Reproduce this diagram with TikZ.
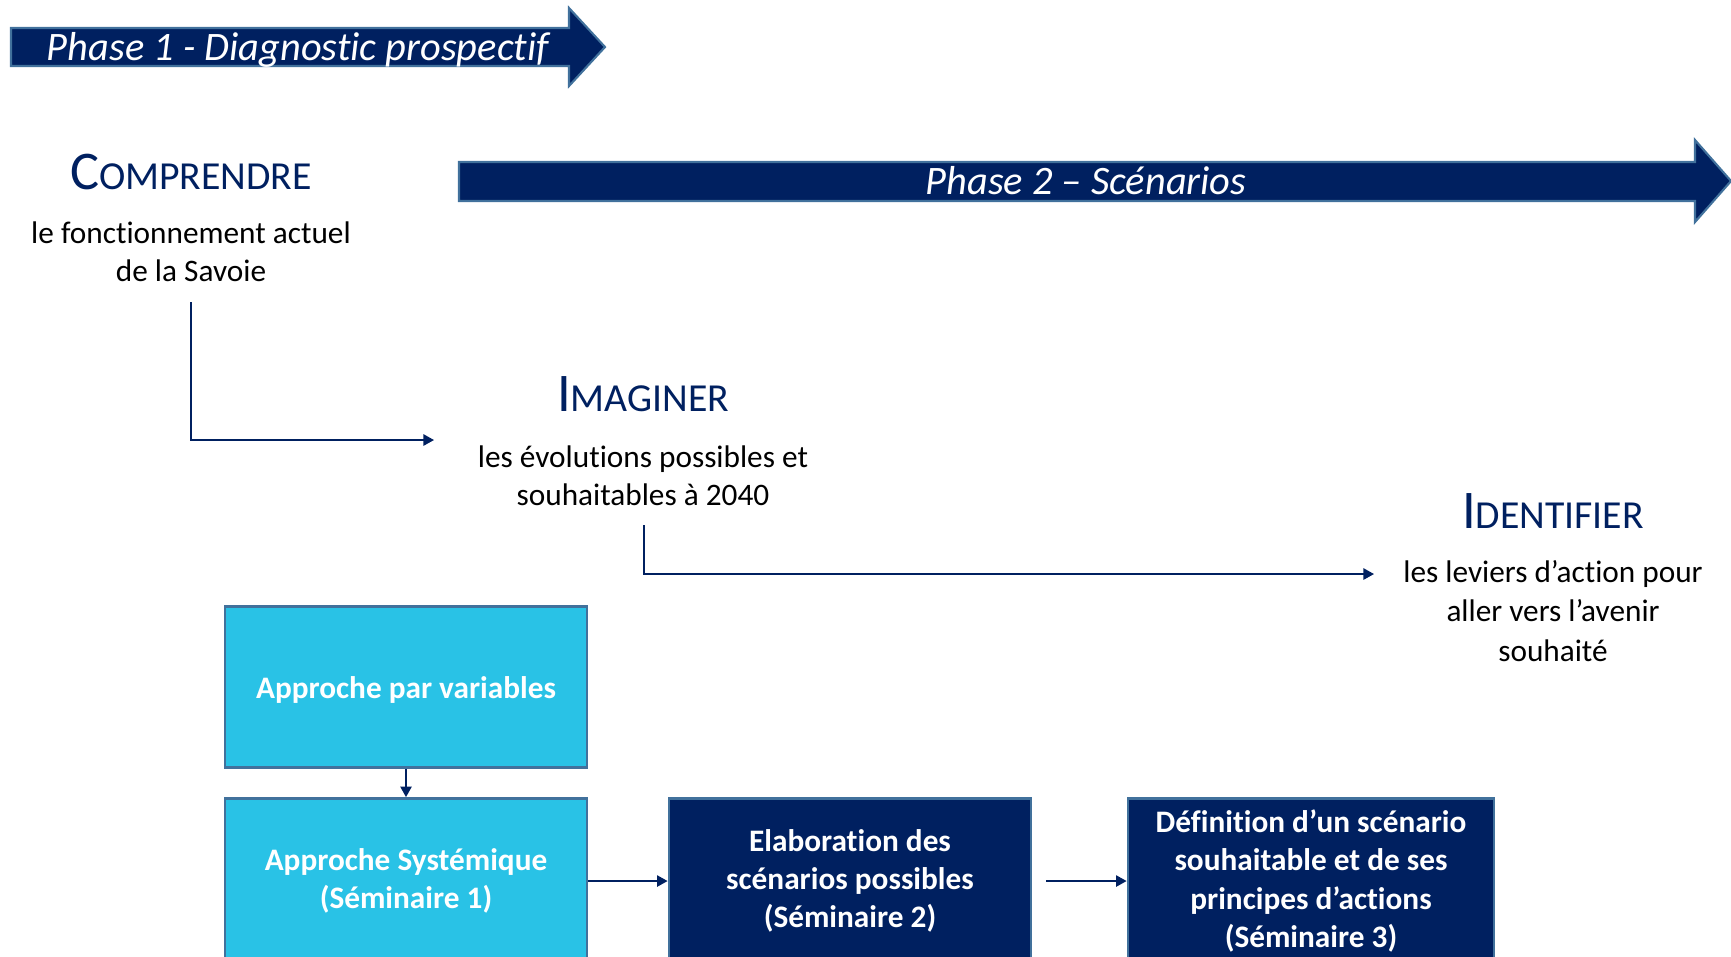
\documentclass[tikz,border=0pt]{standalone}
\usepackage{fontspec}
\setmainfont{Carlito}[Ligatures=NoCommon]
\usepackage{tikz}
\usetikzlibrary{arrows.meta}
\usetikzlibrary{positioning}
\definecolor{navy}{RGB}{0,32,96}
\definecolor{skyblue}{RGB}{41,194,230}
\definecolor{edgeblue}{RGB}{65,113,156}
% small caps titles: big first letter, smaller rest
\newcommand{\sctitle}[2]{{\fontsize{15.5}{18}\selectfont #1}{\fontsize{11.3}{14}\selectfont #2}}

\begin{document}
\begin{tikzpicture}[x=0.1mm,y=-0.1mm,
	phase/.style={fill=navy,draw=edgeblue,line width=0.6pt},
	phasetext/.style={text=white,font=\fontsize{11.5}{14}\selectfont\itshape},
	title/.style={text=navy,anchor=base},
	body/.style={align=center,font=\fontsize{8.9}{10.8}\selectfont},
	lightbox/.style={draw=edgeblue,fill=skyblue,line width=0.8pt,text=white,align=center,inner sep=0pt,
		minimum width=36.2mm,minimum height=16.1mm,font=\fontsize{8.9}{10.9}\selectfont\bfseries},
	darkbox/.style={lightbox,fill=navy,minimum height=16.5mm},
	conn/.style={navy,line width=0.5pt,-{Triangle[length=3pt,width=3.2pt]}}]
	\clip (0,0) rectangle (1731,956);
	% phase arrows
	\draw[phase] (11,28) -- (569,28) -- (569,8) -- (605,47) -- (569,86) -- (569,66) -- (11,66) -- cycle;
	\node[phasetext] (phaseone) at (298,50) {Phase 1 - Diagnostic prospectif};
	\draw[phase] (459,162) -- (1695,162) -- (1695,140) -- (1731,181) -- (1695,222) -- (1695,201) -- (459,201) -- cycle;
	\node[phasetext] (phasetwo) at (1086,181) {Phase 2 – Scénarios};
	% steps
	\node[title] (comprendre) at (191,189) {\sctitle{C}{OMPRENDRE}};
	\node[body] (comprendrebody) at (191,252) {le fonctionnement actuel\\de la Savoie};
	\node[title] (imaginer) at (643,411) {\sctitle{I}{MAGINER}};
	\node[body] (imaginerbody) at (643,476) {les évolutions possibles et\\souhaitables à 2040};
	\node[title] (identifier) at (1553,528) {\sctitle{I}{DENTIFIER}};
	\node[body,font=\fontsize{8.9}{11.3}\selectfont] (identifierbody) at (1553,611) {les leviers d’action pour\\aller vers l’avenir\\souhaité};
	\coordinate (cone) at (191,302);
	\coordinate (coneend) at (434,440);
	\coordinate (ctwo) at (644,525);
	\coordinate (ctwoend) at (1374,574);
	\draw[conn] (cone) |- (coneend);
	\draw[conn] (ctwo) |- (ctwoend);
	% boxes
	\node[lightbox] (varbox) at (406,687) {\raisebox{-3.4pt}[0pt][0pt]{Approche par variables}};
	\node[lightbox,minimum height=16.5mm] (sysbox) at (406,881) {Approche Systémique\\(Séminaire 1)};
	\node[darkbox] (scenbox) at (850,881) {Elaboration des\\scénarios possibles\\(Séminaire 2)};
	\node[darkbox,minimum width=36.6mm] (defbox) at (1311,881) {Définition d’un scénario\\souhaitable et de ses\\principes d’actions\\(Séminaire 3)};
	\draw[conn] (varbox) -- (sysbox);
	\draw[conn] (sysbox) -- (scenbox);
	\draw[conn,shorten <=1.4mm] (scenbox) -- (defbox);
\end{tikzpicture}
\end{document}
